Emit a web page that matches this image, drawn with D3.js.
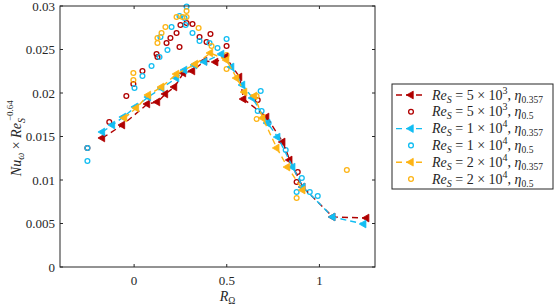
<!DOCTYPE html>
<html>
<head>
<meta charset="utf-8">
<script src="https://cdn.jsdelivr.net/npm/d3@7"></script>
<style>
body { margin: 0; background: #fff; }
svg text { font-family: "Liberation Serif", "DejaVu Serif", serif; fill: #262626; }
</style>
</head>
<body>
<div id="chart"></div>
<script>
// R_Omega / Nu values
var red357X = [-0.171, -0.063, 0.072, 0.126, 0.169, 0.218, 0.266, 0.315, 0.380, 0.440, 0.494, 0.569, 0.591, 0.715, 0.802, 0.840, 0.910, 1.072, 1.255];
var red357Y = [0.01483, 0.01632, 0.01874, 0.01897, 0.01989, 0.02069, 0.02230, 0.02253, 0.02368, 0.02356, 0.02414, 0.02184, 0.01931, 0.01724, 0.01437, 0.01230, 0.00920, 0.00575, 0.00563];

var cyan357X = [-0.171, -0.117, -0.058, 0.007, 0.077, 0.148, 0.229, 0.272, 0.326, 0.380, 0.472, 0.526, 0.585, 0.639, 0.720, 0.775, 0.856, 0.910, 1.072, 1.239];
var cyan357Y = [0.01552, 0.01632, 0.01724, 0.01840, 0.01954, 0.02057, 0.02172, 0.02264, 0.02322, 0.02360, 0.02448, 0.02299, 0.02092, 0.01943, 0.01655, 0.01494, 0.01149, 0.00920, 0.00575, 0.00494];

var orange357X = [-0.052, 0.012, 0.077, 0.148, 0.229, 0.331, 0.412, 0.499, 0.553, 0.596, 0.650, 0.694, 0.770, 0.828, 0.910];
var orange357Y = [0.01713, 0.01828, 0.01977, 0.02069, 0.02218, 0.02333, 0.02460, 0.02379, 0.02172, 0.02011, 0.01966, 0.01713, 0.01368, 0.01149, 0.00885];

var red05X = [-0.252, -0.134, -0.042, -0.004, 0.045, 0.121, 0.126, 0.175, 0.196, 0.229, 0.245, 0.250, 0.283, 0.315, 0.353, 0.391, 0.412, 0.499, 0.667, 0.883, 0.877];
var red05Y = [0.01368, 0.01667, 0.01966, 0.02103, 0.02253, 0.02448, 0.02414, 0.02575, 0.02632, 0.02690, 0.02529, 0.02782, 0.02805, 0.02793, 0.02644, 0.02586, 0.02678, 0.02540, 0.01920, 0.01092, 0.00977];

var cyan05X = [-0.252, -0.252, 0.002, 0.045, 0.094, 0.137, 0.142, 0.180, 0.202, 0.245, 0.272, 0.283, 0.278, 0.315, 0.353, 0.407, 0.450, 0.499, 0.683, 0.667, 0.688, 0.726, 0.818, 0.905, 0.877, 0.948, 0.991];
var cyan05Y = [0.01368, 0.01218, 0.02057, 0.02195, 0.02310, 0.02414, 0.02644, 0.02494, 0.02759, 0.02885, 0.02862, 0.02995, 0.02782, 0.02690, 0.02598, 0.02575, 0.02517, 0.02620, 0.02023, 0.01793, 0.01793, 0.01655, 0.01345, 0.01023, 0.00862, 0.00862, 0.00816];

var orange05X = [-0.004, -0.004, 0.126, 0.126, 0.148, 0.169, 0.229, 0.261, 0.283, 0.283, 0.348, 0.418, 0.499, 0.499, 0.661, 0.661, 0.877, 1.148];
var orange05Y = [0.02230, 0.02150, 0.02575, 0.02632, 0.02690, 0.02759, 0.02874, 0.02874, 0.02874, 0.02943, 0.02747, 0.02540, 0.02437, 0.02276, 0.01966, 0.01701, 0.00793, 0.01115];

var xTicks = [0, 0.5, 1];
var yTicks = [0, 0.005, 0.01, 0.015, 0.02, 0.025, 0.03];

var legendRe = ["5 \u00d7 10", "5 \u00d7 10", "1 \u00d7 10", "1 \u00d7 10", "2 \u00d7 10", "2 \u00d7 10"];
var legendExp = ["3", "3", "4", "4", "4", "4"];
var legendEta = ["0.357", "0.5", "0.357", "0.5", "0.357", "0.5"];

var RED = "#b00000", CYAN = "#12bdf2", ORANGE = "#fdb415";

function zip(xs, ys) {
	var out = [];
	for (var i = 0; i < xs.length; i++) out.push([xs[i], ys[i]]);
	return out;
}

var series = [
	{ pts: zip(red357X, red357Y), color: RED, type: "line" },
	{ pts: zip(red05X, red05Y), color: RED, type: "circle" },
	{ pts: zip(cyan357X, cyan357Y), color: CYAN, type: "line" },
	{ pts: zip(cyan05X, cyan05Y), color: CYAN, type: "circle" },
	{ pts: zip(orange357X, orange357Y), color: ORANGE, type: "line" },
	{ pts: zip(orange05X, orange05Y), color: ORANGE, type: "circle" }
];

var W = 559, H = 307;
var mLeft = 60, mRight = 375, mTop = 6, mBottom = 267;

var svg = d3.select("#chart").append("svg").attr("width", W).attr("height", H);

var x = d3.scaleLinear().domain([-0.4, 1.3]).range([mLeft, mRight]);
var y = d3.scaleLinear().domain([0, 0.03]).range([mBottom, mTop]);

var tri = d3.symbol().type(d3.symbolTriangle).size(26);

var plot = svg.append("g");

// draw order: circles under triangles roughly as in original
[1, 3, 5, 0, 2, 4].forEach(function (k) {
	var s = series[k];
	if (s.type == "line") {
		var line = d3.line().x(function (d) { return x(d[0]); }).y(function (d) { return y(d[1]); });
		plot.append("path").attr("d", line(s.pts)).attr("fill", "none")
			.attr("stroke", s.color).attr("stroke-width", 1.4).attr("stroke-dasharray", "6,4");
		plot.selectAll(null).data(s.pts).enter().append("path")
			.attr("d", tri)
			.attr("transform", function (d) { return "translate(" + x(d[0]) + "," + y(d[1]) + ") rotate(-90)"; })
			.attr("fill", s.color).attr("stroke", s.color).attr("stroke-width", 0.8);
	} else {
		plot.selectAll(null).data(s.pts).enter().append("circle")
			.attr("cx", function (d) { return x(d[0]); })
			.attr("cy", function (d) { return y(d[1]); })
			.attr("r", 2.4).attr("fill", "none")
			.attr("stroke", s.color).attr("stroke-width", 1.3);
	}
});

// axes box with inward ticks
var ax = svg.append("g").attr("stroke", "#262626").attr("stroke-width", 1).attr("fill", "none");
ax.append("rect").attr("x", mLeft).attr("y", mTop).attr("width", mRight - mLeft).attr("height", mBottom - mTop);
xTicks.forEach(function (t) {
	ax.append("line").attr("x1", x(t)).attr("x2", x(t)).attr("y1", mBottom).attr("y2", mBottom - 3);
	ax.append("line").attr("x1", x(t)).attr("x2", x(t)).attr("y1", mTop).attr("y2", mTop + 3);
	svg.append("text").attr("x", x(t)).attr("y", mBottom + 18).attr("text-anchor", "middle")
		.attr("font-size", 13).text(t);
});
yTicks.forEach(function (t) {
	ax.append("line").attr("x1", mLeft).attr("x2", mLeft + 3).attr("y1", y(t)).attr("y2", y(t));
	ax.append("line").attr("x1", mRight).attr("x2", mRight - 3).attr("y1", y(t)).attr("y2", y(t));
	svg.append("text").attr("x", mLeft - 5).attr("y", y(t) + 4.5).attr("text-anchor", "end")
		.attr("font-size", 13).text(t);
});

// x label R_Omega
var xl = svg.append("text").attr("x", x(0.5) - 7).attr("y", 301).attr("font-size", 14);
xl.append("tspan").attr("font-style", "italic").text("R");
xl.append("tspan").attr("font-size", 9.5).attr("dy", 2.5).text("\u03a9");

// y label
var yl = svg.append("text").attr("transform", "translate(21," + y(0.0148) + ") rotate(-90)")
	.attr("text-anchor", "middle").attr("font-size", 14);
yl.append("tspan").attr("font-style", "italic").text("Nu");
yl.append("tspan").attr("font-style", "italic").attr("font-size", 10).attr("dy", 3).text("\u03c9");
yl.append("tspan").attr("dy", -3).text(" \u00d7 ");
yl.append("tspan").attr("font-style", "italic").text("Re");
yl.append("tspan").attr("font-style", "italic").attr("font-size", 10).attr("dy", 4).text("S");
yl.append("tspan").attr("font-size", 9).attr("dx", -3).attr("dy", -12).text("\u22120.64");

// legend
var lg = svg.append("g");
lg.append("rect").attr("x", 392).attr("y", 84).attr("width", 161).attr("height", 105)
	.attr("fill", "#fff").attr("stroke", "#262626").attr("stroke-width", 1);
series.forEach(function (s, i) {
	var ly = 95 + i * 16.8;
	if (s.type == "line") {
		lg.append("line").attr("x1", 396).attr("x2", 426).attr("y1", ly).attr("y2", ly)
			.attr("stroke", s.color).attr("stroke-width", 1.4).attr("stroke-dasharray", "6,4");
		lg.append("path").attr("d", tri).attr("transform", "translate(411," + ly + ") rotate(-90)")
			.attr("fill", s.color).attr("stroke", s.color).attr("stroke-width", 0.8);
	} else {
		lg.append("circle").attr("cx", 411).attr("cy", ly).attr("r", 2.4).attr("fill", "none")
			.attr("stroke", s.color).attr("stroke-width", 1.3);
	}
	var t = lg.append("text").attr("x", 432).attr("y", ly + 4.5).attr("font-size", 14);
	t.append("tspan").attr("font-style", "italic").text("Re");
	t.append("tspan").attr("font-style", "italic").attr("font-size", 10).attr("dy", 3).text("S");
	t.append("tspan").attr("dy", -3).text(" = " + legendRe[i]);
	t.append("tspan").attr("font-size", 10).attr("dy", -6).text(legendExp[i]);
	t.append("tspan").attr("dy", 6).text(", ");
	t.append("tspan").attr("font-style", "italic").text("\u03b7");
	t.append("tspan").attr("font-size", 9.5).attr("dy", 3).text(legendEta[i]);
});
</script>
</body>
</html>
